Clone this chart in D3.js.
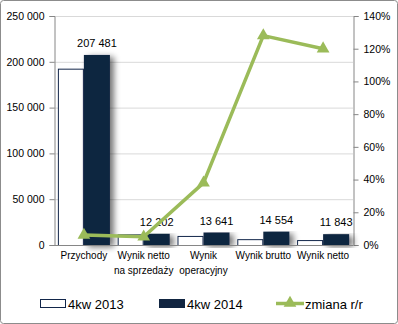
<!DOCTYPE html>
<html><head><meta charset="utf-8">
<script src="https://cdn.jsdelivr.net/npm/d3@7"></script>
<style>body{margin:0;background:#fff}svg{display:block}text{font-family:"Liberation Sans",Arial,sans-serif}</style>
</head><body>
<script>
const categories = [["Przychody"],["Wynik netto","na sprzedaży"],["Wynik","operacyjny"],["Wynik brutto"],["Wynik netto"]];
const values2013 = [192500, 11620, 9890, 6380, 5380];
const values2014 = [207481, 12202, 13641, 14554, 11843];
const change = [6.1, 5.0, 38.0, 128.0, 120.0];
const leftTicks = [0, 50000, 100000, 150000, 200000, 250000];
const rightTicks = [0, 20, 40, 60, 80, 100, 120, 140];
const seriesNames = ["4kw 2013", "4kw 2014", "zmiana r/r"];

const W = 398, H = 324;
const svg = d3.select("body").append("svg").attr("width", W).attr("height", H);
const defs = svg.append("defs");
const f = defs.append("filter").attr("id","sh").attr("x","-50%").attr("y","-20%").attr("width","200%").attr("height","140%");
f.append("feGaussianBlur").attr("in","SourceAlpha").attr("stdDeviation",3);
f.append("feOffset").attr("dx",4).attr("dy",2).attr("result","b");
f.append("feComponentTransfer").append("feFuncA").attr("type","linear").attr("slope",0.55);
const fm = f.append("feMerge"); fm.append("feMergeNode"); fm.append("feMergeNode").attr("in","SourceGraphic");

svg.append("rect").attr("x",0.5).attr("y",0.5).attr("width",W-1).attr("height",H-1).attr("rx",3)
  .attr("fill","#fff").attr("stroke","#8c8c8c");

const L = 54, R = 353, T = 16, B = 245;
const fmt = d => d3.format(",")(d).replace(/,/g, " ");
const x0 = d3.scaleBand().domain(d3.range(5)).range([L, R]).paddingInner(0.13).paddingOuter(0.065);
const x1 = d3.scaleBand().domain([0,1]).range([0, x0.bandwidth()]);
const y = d3.scaleLinear().domain([0, 250000]).range([B, T]);
const y2 = d3.scaleLinear().domain([0, 140]).range([B, T]);
const xc = d3.scalePoint().domain(d3.range(5)).range([L, R]).padding(0.5);

// grid
svg.append("g").selectAll("line").data(leftTicks.slice(1)).join("line")
  .attr("x1", L).attr("x2", R).attr("y1", d => y(d)+0.5).attr("y2", d => y(d)+0.5)
  .attr("stroke", "#d9d9d9");

// axes
const ga = svg.append("g").attr("transform", `translate(${L+0.5},0)`)
  .call(d3.axisLeft(y).tickValues(leftTicks).tickFormat(fmt).tickSize(5).tickPadding(5));
const gr = svg.append("g").attr("transform", `translate(${R+0.5},0)`)
  .call(d3.axisRight(y2).tickValues(rightTicks).tickFormat(d => d + "%").tickSize(5).tickPadding(5));
[ga, gr].forEach(g => {
  g.select(".domain").attr("stroke", "#868686");
  g.selectAll(".tick line").attr("stroke", "#868686");
  g.selectAll("text").attr("font-size", 10.5).attr("fill", "#000");
});
ga.selectAll(".tick").attr("transform", d => `translate(0,${y(d)+0.5})`);
gr.selectAll(".tick").attr("transform", d => `translate(0,${y2(d)+0.5})`);

// bars
const grp = svg.append("g").selectAll("g").data(d3.range(5)).join("g")
  .attr("transform", i => `translate(${x0(i)},0)`);
grp.append("rect").attr("x", x1(0)+0.5).attr("y", i => y(values2013[i])+0.5)
  .attr("width", x1.bandwidth()-1).attr("height", i => B - y(values2013[i]))
  .attr("fill", "#fff").attr("stroke", "#12264a");
grp.append("rect").attr("x", x1(1)).attr("y", i => y(values2014[i]))
  .attr("width", x1.bandwidth()).attr("height", i => B - y(values2014[i]))
  .attr("fill", "#112541").attr("filter", "url(#sh)");
grp.append("text").attr("x", x1(1) + x1.bandwidth()/2).attr("y", i => y(values2014[i]) - 8)
  .attr("text-anchor", "middle").attr("font-size", 11).text(i => fmt(values2014[i]));

// x axis line
svg.append("line").attr("x1", L).attr("x2", R).attr("y1", B+0.5).attr("y2", B+0.5).attr("stroke", "#868686");

// x labels
svg.append("g").selectAll("text").data(categories).join("text")
  .attr("x", (d,i) => xc(i)).attr("y", 259).attr("text-anchor", "middle").attr("font-size", 10)
  .selectAll("tspan").data(d => d).join("tspan")
  .attr("x", function(){ return this.parentNode.getAttribute("x"); })
  .attr("dy", (d,j) => j ? 15 : 0).text(d => d);

// line
const green = "#9bbb59";
svg.append("path").datum(change)
  .attr("d", d3.line().x((d,i) => xc(i)).y(d => y2(d)))
  .attr("fill", "none").attr("stroke", green).attr("stroke-width", 3.5).attr("stroke-linejoin","round");
const tri = d3.symbol().type(d3.symbolTriangle).size(70);
svg.append("g").selectAll("path").data(change).join("path")
  .attr("transform", (d,i) => `translate(${xc(i)},${y2(d)})`).attr("d", tri).attr("fill", green);

// legend
const lg = svg.append("g");
lg.append("rect").attr("x", 40.5).attr("y", 299.5).attr("width", 25).attr("height", 8).attr("fill", "#fff").attr("stroke", "#12264a");
lg.append("text").attr("x", 68).attr("y", 308.5).attr("font-size", 13).text(seriesNames[0]);
lg.append("rect").attr("x", 159).attr("y", 299).attr("width", 26).attr("height", 9).attr("fill", "#112541");
lg.append("text").attr("x", 187).attr("y", 308.5).attr("font-size", 13).text(seriesNames[1]);
lg.append("line").attr("x1", 276).attr("x2", 304).attr("y1", 303.5).attr("y2", 303.5).attr("stroke", green).attr("stroke-width", 3.5);
lg.append("path").attr("transform", "translate(290,303)").attr("d", tri).attr("fill", green);
lg.append("text").attr("x", 305).attr("y", 308.5).attr("font-size", 13).text(seriesNames[2]);
</script>
</body></html>
